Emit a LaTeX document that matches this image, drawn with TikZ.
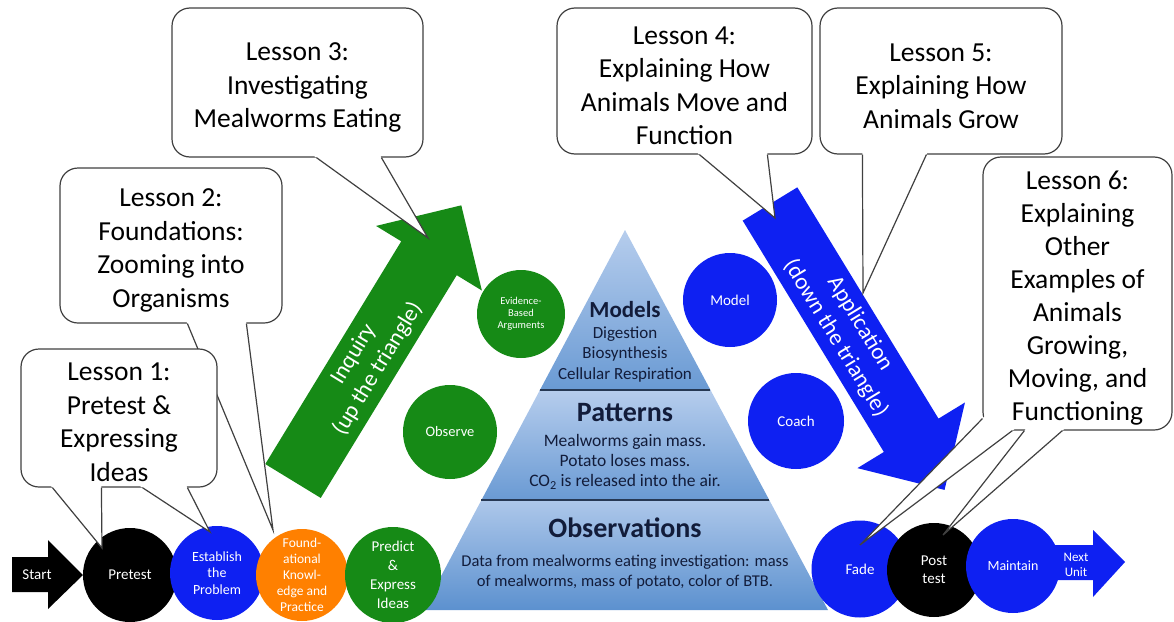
\documentclass[tikz,border=0pt]{standalone}
\usepackage{fontspec}
\setmainfont{Carlito}
\usepackage{tikz}
\usetikzlibrary{calc}
\definecolor{stagegreen}{RGB}{22,138,22}
\definecolor{stageblue}{RGB}{14,32,242}
\definecolor{stageorange}{RGB}{255,128,0}
\definecolor{pyrtop}{RGB}{182,205,237}
\definecolor{pyrbot}{RGB}{92,145,207}
\definecolor{pyrline}{RGB}{38,56,84}
\definecolor{pyrtext}{RGB}{18,28,58}
\tikzset{lesson/.style = {draw=black!75, line width=1.2pt, fill=white, rounded corners=18pt, inner sep=0pt}}
\tikzset{lessontext/.style = {align=center, inner sep=0pt, font=\fontsize{27.5}{33.5}\selectfont}}
\tikzset{tail/.style = {draw=black!75, line width=1.2pt, line join=miter}}
\tikzset{stage/.style = {circle, minimum size=94pt, inner sep=0pt, text=white, align=center, font=\fontsize{15}{18}\selectfont}}
\tikzset{arrowtext/.style = {text=white, align=center, inner sep=0pt, font=\fontsize{23}{28.5}\selectfont}}
\tikzset{pyrhead/.style = {text=pyrtext, inner sep=0pt, font=\bfseries\fontsize{28}{30}\selectfont}}
\tikzset{pyrbody/.style = {text=pyrtext, align=center, inner sep=0pt, font=\fontsize{17}{20.5}\selectfont}}
\newcommand{\lessontail}[4]{%
  \coordinate (ta) at ([#2]#1.south west);
  \coordinate (tb) at ([#3]#1.south west);
  \fill[white] ($(#4)!1.05!(ta)$) -- (#4) -- ($(#4)!1.05!(tb)$) -- cycle;
  \draw[tail] (ta) -- (#4) -- (tb);}

\begin{document}
\begin{tikzpicture}[x=1pt,y=-1pt]
	\useasboundingbox (0,0) rectangle (1174,621);
	\coordinate (apex) at (625,230);
	\coordinate (baseL) at (423,610);
	\coordinate (baseR) at (828,610);
	\begin{scope}
		\clip (apex) -- (baseL) -- (baseR) -- cycle;
		\shade[top color=pyrtop, bottom color=pyrbot!85!pyrtop] (400,230) rectangle (850,390);
		\shade[top color=pyrtop, bottom color=pyrbot!85!pyrtop] (400,390) rectangle (850,500);
		\shade[top color=pyrtop!90!pyrbot, bottom color=pyrbot] (400,500) rectangle (850,610);
	\end{scope}
	\draw[pyrline, line width=1.8pt] ($(apex)!0.421!(baseL)$) -- ($(apex)!0.421!(baseR)$);
	\draw[pyrline, line width=1.8pt] ($(apex)!0.711!(baseL)$) -- ($(apex)!0.711!(baseR)$);
	\node[pyrhead, font=\bfseries\fontsize{23}{25}\selectfont] (models) at (625,310) {Models};
	\node[pyrbody] (modelsTxt) at (625,354) {Digestion\\Biosynthesis\\Cellular Respiration};
	\node[pyrhead] (patterns) at (625,413) {Patterns};
	\node[pyrbody, font=\fontsize{17.5}{20}\selectfont] (patternsTxt) at (625,462) {Mealworms gain mass.\\Potato loses mass.\\CO\textsubscript{2} is released into the air.};
	\node[pyrhead] (observations) at (625,528) {Observations};
	\node[pyrbody, font=\fontsize{16.5}{20}\selectfont] (observationsTxt) at (625,572) {Data from mealworms eating investigation: mass\\of mealworms, mass of potato, color of BTB.};

	\begin{scope}[shift={(293,481)}, rotate=58.6]
		\fill[stagegreen] (0,-32.5) -- (261,-32.5) -- (261,-62) -- (323,0) -- (261,62) -- (261,32.5) -- (0,32.5) -- cycle;
		\node[arrowtext, rotate=58.6] (inquiry) at (140,0) {Inquiry\\(up the triangle)};
	\end{scope}
	\begin{scope}[shift={(770,204)}, rotate=-58.6]
		\fill[stageblue] (0,-32) -- (271,-32) -- (271,-63) -- (335,0) -- (271,63) -- (271,32) -- (0,32) -- cycle;
		\node[arrowtext, rotate=-58.6] (application) at (149,0) {Application\\(down the triangle)};
	\end{scope}

	\node[stage, fill=stagegreen, minimum size=88pt, font=\fontsize{10.5}{12}\selectfont] (evidence) at (521,314) {Evidence-\\Based\\Arguments};
	\node[stage, fill=stagegreen, font=\fontsize{14.5}{17}\selectfont] (observe) at (450,432) {Observe};
	\node[stage, fill=stageblue] (model) at (730,300) {Model};
	\node[stage, fill=stageblue, minimum size=96pt] (coach) at (796,421) {Coach};

	\fill[black] (12,557) -- (48,557) -- (48,540) -- (83,575) -- (48,609) -- (48,592) -- (12,592) -- cycle;
	\node[stage, minimum size=0pt] (start) at (37,575) {Start};
	\node[stage, fill=black] (pretest) at (130,575) {Pretest};
	\node[stage, fill=stageblue, font=\fontsize{14}{16.5}\selectfont] (establish) at (217,573) {Establish\\the\\Problem};
	\node[stage, fill=stageorange, minimum size=92pt, font=\fontsize{13.5}{16}\selectfont] (foundational) at (302,575) {Found-\\ational\\Knowl-\\edge and\\Practice};
	\node[stage, fill=stagegreen, minimum size=96pt, font=\fontsize{15}{19}\selectfont] (predict) at (393,575) {Predict\\\&\\Express\\Ideas};

	\node[stage, fill=stageblue, minimum size=97pt] (fade) at (860,569) {Fade};
	\node[stage, fill=black] (posttest) at (934,570) {Post\\test};
	\fill[stageblue] (1040,545) -- (1093,545) -- (1093,530) -- (1125,562) -- (1093,597) -- (1093,580) -- (1040,580) -- cycle;
	\node[stage, fill=stageblue, font=\fontsize{14}{17}\selectfont] (maintain) at (1013,566) {Maintain};
	\node[stage, minimum size=0pt, font=\fontsize{13}{15.5}\selectfont] (nextunit) at (1076,565) {Next\\Unit};

	\coordinate (tip1a) at (102,548);
	\coordinate (tip1b) at (210,532);
	\coordinate (tip2) at (273,530);
	\coordinate (tip3) at (428,238);
	\coordinate (tip4) at (775,218);
	\coordinate (tip5) at (863,293);
	\coordinate (tip6a) at (860,545);
	\coordinate (tip6b) at (943,535);

	\node[lesson, minimum width=251pt, minimum height=149pt] (lesson3) at (297.5,82.5) {};
	\lessontail{lesson3}{xshift=145pt}{xshift=210pt}{tip3}
	\node[lessontext] (lesson3txt) at ([yshift=-5pt]lesson3.center) {Lesson 3:\\Investigating\\Mealworms Eating};
	\node[lesson, minimum width=255pt, minimum height=146pt] (lesson4) at (684.5,81) {};
	\lessontail{lesson4}{xshift=143pt}{xshift=211pt}{tip4}
	\node[lessontext] (lesson4txt) at ([yshift=-5pt]lesson4.center) {Lesson 4:\\Explaining How\\Animals Move and\\Function};
	\node[lesson, minimum width=242pt, minimum height=146pt] (lesson5) at (941,81) {};
	\lessontail{lesson5}{xshift=43pt}{xshift=107pt}{tip5}
	\node[lessontext] (lesson5txt) at ([yshift=-5pt]lesson5.center) {Lesson 5:\\Explaining How\\Animals Grow};
	\node[lesson, minimum width=189pt, minimum height=273pt] (lesson6) at (1077.5,293.5) {};
	\lessontail{lesson6}{yshift=12pt}{xshift=30pt}{tip6a}
	\lessontail{lesson6}{xshift=42pt}{xshift=80pt}{tip6b}
	\node[lessontext, font=\fontsize{27.5}{33}\selectfont] (lesson6txt) at ([yshift=-5pt]lesson6.center) {Lesson 6:\\Explaining\\Other\\Examples of\\Animals\\Growing,\\Moving, and\\Functioning};
	\node[lesson, minimum width=222pt, minimum height=155pt] (lesson2) at (171,245.5) {};
	\lessontail{lesson2}{xshift=128pt}{xshift=187pt}{tip2}
	\node[lessontext] (lesson2txt) at ([yshift=-5pt]lesson2.center) {Lesson 2:\\Foundations:\\Zooming into\\Organisms};
	\node[lesson, minimum width=196pt, minimum height=138pt] (lesson1) at (119,418) {};
	\lessontail{lesson1}{xshift=32pt}{xshift=81pt}{tip1a}
	\lessontail{lesson1}{xshift=122pt}{xshift=167pt}{tip1b}
	\node[lessontext] (lesson1txt) at ([yshift=-4pt]lesson1.center) {Lesson 1:\\Pretest \&\\Expressing\\Ideas};
\end{tikzpicture}
\end{document}
